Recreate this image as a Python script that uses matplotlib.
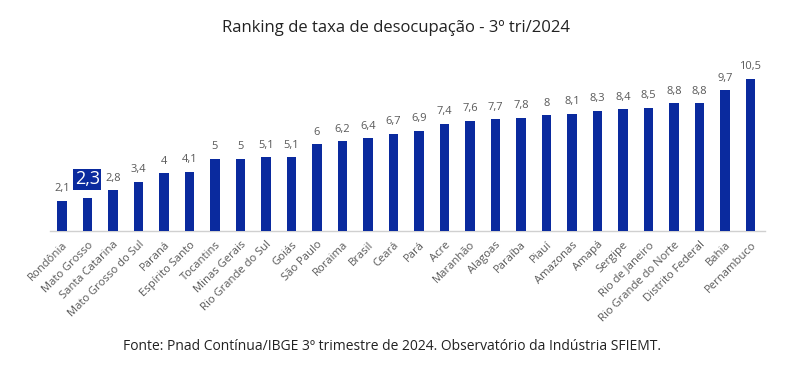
import matplotlib
matplotlib.use("Agg")
import matplotlib.pyplot as plt
import matplotlib.transforms as mtransforms

plt.rcParams["font.family"] = ["Open Sans", "DejaVu Sans"]

ESTADOS = [
    "Rondônia", "Mato Grosso", "Santa Catarina", "Mato Grosso do Sul", "Paraná",
    "Espírito Santo", "Tocantins", "Minas Gerais", "Rio Grande do Sul", "Goiás",
    "São Paulo", "Roraima", "Brasil", "Ceará", "Pará", "Acre", "Maranhão",
    "Alagoas", "Paraíba", "Piauí", "Amazonas", "Amapá", "Sergipe",
    "Rio de Janeiro", "Rio Grande do Norte", "Distrito Federal", "Bahia", "Pernambuco",
]
TAXAS = [2.1, 2.3, 2.8, 3.4, 4.0, 4.1, 5.0, 5.0, 5.1, 5.1, 6.0, 6.2, 6.4, 6.7,
         6.9, 7.4, 7.6, 7.7, 7.8, 8.0, 8.1, 8.3, 8.4, 8.5, 8.8, 8.8, 9.7, 10.5]
DESTAQUE = "Mato Grosso"

BAR = "#0a2a9e"
GREY = "#595959"


def fmt(v):
    s = f"{v:.1f}".replace(".", ",")
    return s[:-2] if s.endswith(",0") else s


fig = plt.figure(figsize=(8.09, 3.81), dpi=100)
ax = fig.add_axes([50 / 809, 150 / 381, 715 / 809, 171 / 381])
x = list(range(len(ESTADOS)))
ax.bar(x, TAXAS, width=0.36, color=BAR, zorder=3)
ax.set_xlim(-0.47, len(ESTADOS) - 1 + 0.57)
ax.set_ylim(0, 11.8)

for xi, v, nome in zip(x, TAXAS, ESTADOS):
    if nome == DESTAQUE:
        ax.text(xi, v + 0.65, fmt(v), ha="center", va="bottom", fontsize=13,
                color="white",
                bbox=dict(boxstyle="square,pad=0.08", facecolor=BAR, edgecolor="none"))
    else:
        ax.text(xi, v + 0.45, fmt(v), ha="center", va="bottom", fontsize=8, color=GREY)

ax.set_xticks(x)
ax.set_xticklabels(ESTADOS, rotation=45, ha="right", rotation_mode="anchor",
                   fontsize=8.1, color=GREY)
shift = mtransforms.ScaledTranslation(0.03, 0, fig.dpi_scale_trans)
for lbl in ax.get_xticklabels():
    lbl.set_transform(lbl.get_transform() + shift)
ax.tick_params(axis="x", length=0, pad=6)
ax.set_yticks([])
for s in ("top", "right", "left"):
    ax.spines[s].set_visible(False)
ax.spines["bottom"].set_color("#d0d0d0")
ax.spines["bottom"].set_linewidth(1)

fig.text(396 / 809, 1 - 28 / 381, "Ranking de taxa de desocupação - 3º tri/2024",
         ha="center", va="center", fontsize=12, color="#222222")
fig.text(392 / 809, 1 - 347 / 381,
         "Fonte: Pnad Contínua/IBGE 3º trimestre de 2024. Observatório da Indústria SFIEMT.",
         ha="center", va="center", fontsize=10, color="#222222")

fig.savefig("out.png", dpi=100, facecolor="white")
